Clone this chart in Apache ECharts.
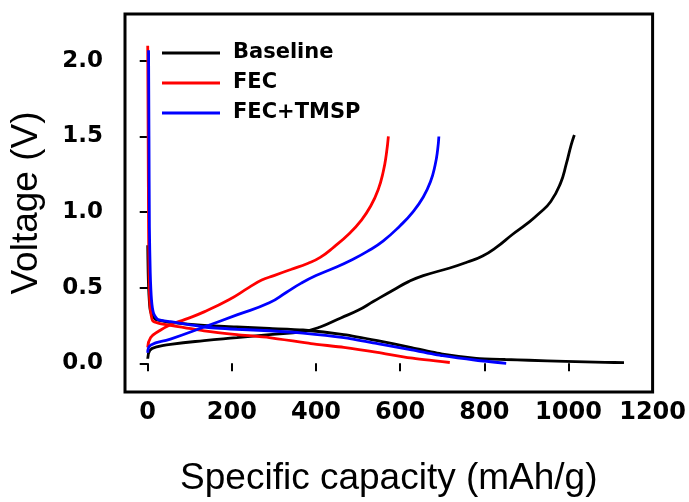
<!DOCTYPE html>
<html>
<head>
<meta charset="utf-8">
<script src="https://cdn.jsdelivr.net/npm/echarts@6/dist/echarts.min.js"></script>
<style>
html,body{margin:0;padding:0;background:#fff;}
#chart{width:689px;height:502px;}
</style>
</head>
<body>
<div id="chart"></div>
<script>
var seriesNames = ['Baseline', 'FEC', 'FEC+TMSP'];
var xTicks = [0, 200, 400, 600, 800, 1000, 1200];
var yTicks = [0, 0.5, 1.0, 1.5, 2.0];

var baselineDischarge = [[0,0.78],[1,0.6],[3,0.45],[6,0.35],[12,0.31],[19,0.29],[35,0.28],[54,0.27],[134,0.25],[212,0.24],[289,0.23],[369,0.22],[466,0.19],[546,0.15],[624,0.105],[701,0.06],[781,0.033],[850,0.025],[906,0.02],[993,0.013],[1087,0.006],[1132,0.004]];
var baselineCharge = [[0,0.03],[5,0.085],[24,0.11],[54,0.125],[134,0.15],[212,0.17],[289,0.19],[369,0.21],[410,0.24],[459,0.30],[500,0.35],[537,0.41],[584,0.485],[620,0.54],[655,0.58],[718,0.63],[760,0.67],[796,0.71],[830,0.77],[866,0.85],[900,0.92],[930,0.99],[958,1.07],[981,1.19],[995,1.32],[1006,1.44],[1014,1.51]];

var fecDischarge = [[0,2.1],[1,1.5],[2,0.9],[3,0.6],[5,0.4],[8,0.32],[12,0.28],[25,0.265],[54,0.25],[134,0.215],[212,0.19],[289,0.17],[388,0.13],[466,0.105],[546,0.072],[624,0.035],[718,0.005]];
var fecCharge = [[0,0.105],[7,0.17],[25,0.21],[54,0.255],[89,0.29],[134,0.34],[193,0.42],[240,0.50],[271,0.55],[300,0.58],[340,0.62],[380,0.66],[410,0.70],[443,0.77],[480,0.86],[506,0.94],[530,1.04],[548,1.15],[560,1.27],[567,1.38],[572,1.50]];

var tmspDischarge = [[2,2.07],[3,1.5],[4,0.9],[6,0.6],[9,0.42],[14,0.33],[24,0.29],[54,0.275],[134,0.24],[212,0.225],[289,0.215],[369,0.2],[466,0.17],[546,0.13],[624,0.09],[701,0.05],[781,0.02],[852,0.0]];
var tmspCharge = [[0,0.07],[7,0.12],[54,0.16],[134,0.24],[212,0.32],[289,0.40],[330,0.47],[365,0.53],[400,0.58],[443,0.63],[482,0.68],[522,0.74],[560,0.81],[600,0.91],[630,1.00],[655,1.10],[672,1.20],[683,1.31],[689,1.41],[692,1.50]];

var colors = {'Baseline':'#000000','FEC':'#ff0000','FEC+TMSP':'#0000ff'};

function mk(name, data, sm){
  return {
    name: name, type: 'line', data: data,
    showSymbol: false, symbol: 'none',
    smooth: sm,
    lineStyle: {color: colors[name], width: 2.8},
    itemStyle: {color: colors[name]},
    animation: false
  };
}

var chart = echarts.init(document.getElementById('chart'), null, {renderer: 'canvas'});
chart.setOption({
  backgroundColor: '#fff',
  animation: false,
  grid: {left: 122, right: 34, top: 14, bottom: 107, show: true, borderColor: '#000', borderWidth: 3, backgroundColor: 'transparent'},
  legend: {
    data: seriesNames,
    orient: 'vertical', left: 157, top: 37,
    itemWidth: 58, itemHeight: 3, icon: 'rect', itemGap: 8,
    textStyle: {fontFamily: 'DejaVu Sans', fontWeight: 'bold', fontSize: 21, color: '#000', lineHeight: 22, padding: [0,0,0,8]}
  },
  xAxis: {
    type: 'value', min: -54, max: 1200,
    splitLine: {show: false},
    axisLine: {show: false},
    axisTick: {show: true, inside: false, length: 8, customValues: xTicks, lineStyle: {color: '#000', width: 2}},
    axisLabel: {customValues: xTicks, margin: 9, fontFamily: 'DejaVu Sans', fontWeight: 'bold', fontSize: 24, color: '#000', formatter: function(v){return String(v);}},
    name: 'Specific capacity (mAh/g)', nameLocation: 'middle', nameGap: 68,
    nameTextStyle: {fontFamily: 'Liberation Sans', fontSize: 37, color: '#000'}
  },
  yAxis: {
    type: 'value', min: -0.19, max: 2.31,
    splitLine: {show: false},
    axisLine: {show: false},
    axisTick: {show: true, inside: false, length: 8, customValues: yTicks, lineStyle: {color: '#000', width: 2}},
    axisLabel: {customValues: yTicks, margin: 22, fontFamily: 'DejaVu Sans', fontWeight: 'bold', fontSize: 23, color: '#000', formatter: function(v){return v.toFixed(1);}},
    name: 'Voltage (V)', nameLocation: 'middle', nameGap: 80, nameRotate: 90,
    nameTextStyle: {fontFamily: 'Liberation Sans', fontSize: 37, color: '#000'}
  },
  series: [
    mk('Baseline', baselineDischarge, 0.2),
    mk('Baseline', baselineCharge, 0.5),
    mk('FEC', fecDischarge, 0.2),
    mk('FEC', fecCharge, 0.5),
    mk('FEC+TMSP', tmspDischarge, 0.2),
    mk('FEC+TMSP', tmspCharge, 0.5)
  ]
});
</script>
</body>
</html>
